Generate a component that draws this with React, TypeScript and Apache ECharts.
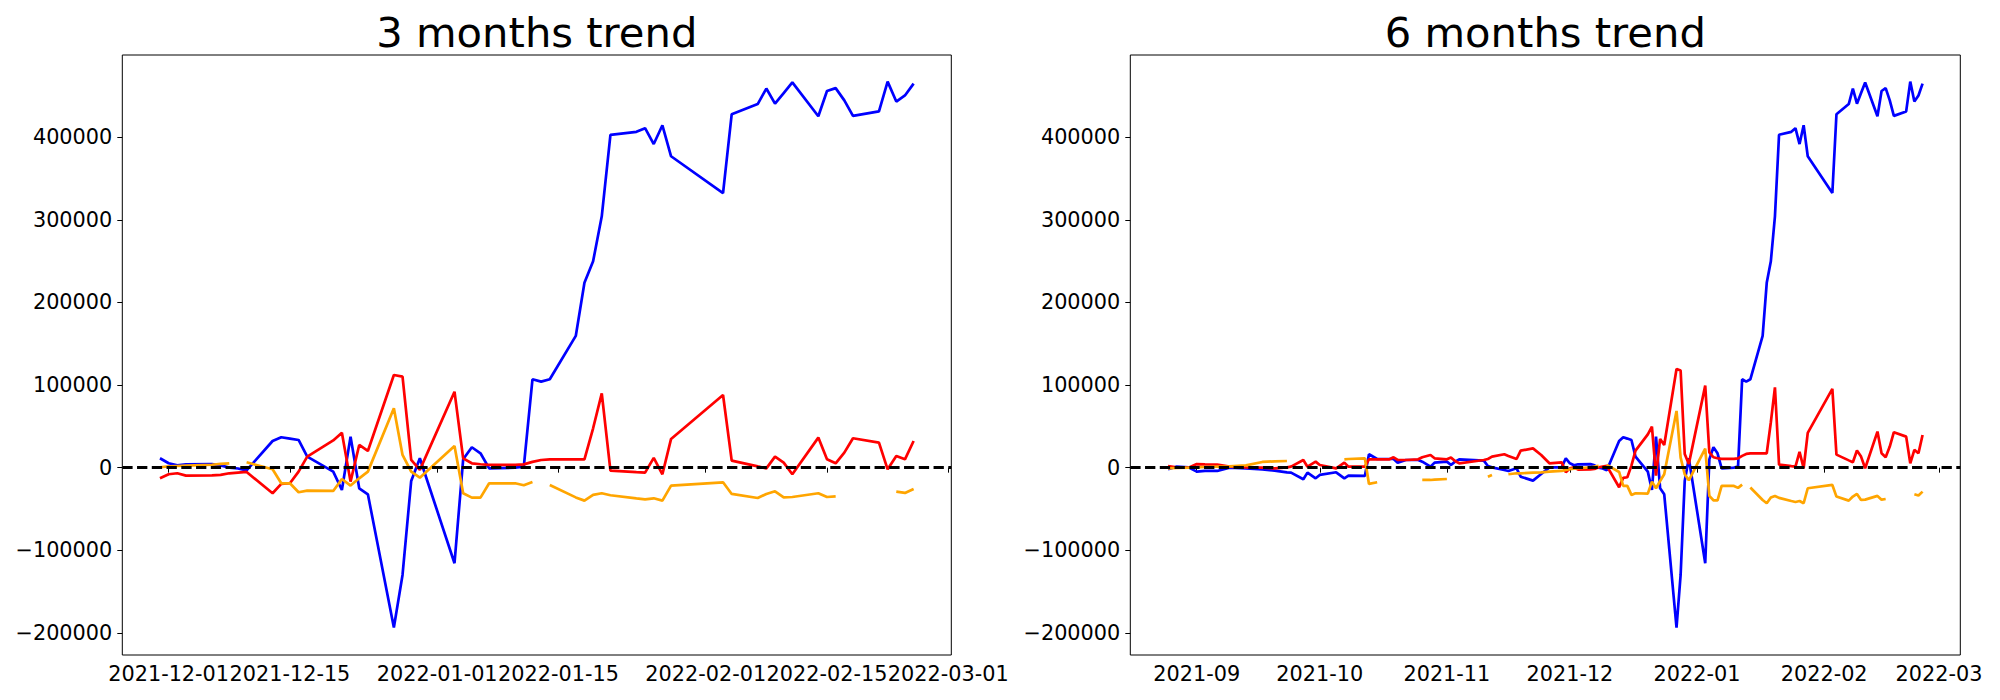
import React, { useEffect, useRef } from 'react';
import * as echarts from 'echarts';

// ---------- data ----------
const dates3 = [
  '2021-11-30', '2021-12-01', '2021-12-02', '2021-12-03', '2021-12-06', '2021-12-07', '2021-12-08', '2021-12-09', '2021-12-10',
  '2021-12-13', '2021-12-14', '2021-12-15', '2021-12-16', '2021-12-17', '2021-12-20', '2021-12-21', '2021-12-22', '2021-12-23',
  '2021-12-24', '2021-12-27', '2021-12-28', '2021-12-29', '2021-12-30', '2021-12-31', '2022-01-03', '2022-01-04', '2022-01-05',
  '2022-01-06', '2022-01-07', '2022-01-10', '2022-01-11', '2022-01-12', '2022-01-13', '2022-01-14', '2022-01-17', '2022-01-18',
  '2022-01-19', '2022-01-20', '2022-01-21', '2022-01-24', '2022-01-25', '2022-01-26', '2022-01-27', '2022-01-28', '2022-02-03',
  '2022-02-04', '2022-02-07', '2022-02-08', '2022-02-09', '2022-02-10', '2022-02-11', '2022-02-14', '2022-02-15', '2022-02-16',
  '2022-02-17', '2022-02-18', '2022-02-21', '2022-02-22', '2022-02-23', '2022-02-24', '2022-02-25',
];
const blue3 = [
  11350, 5300, 2900, 4100, 4300, 2800, 0, -1000, -3200,
  32300, 36800, 35200, 33500, 13400, -4800, -27000, 37600, -25000,
  -32200, -193600, -129900, -16100, 11400, -20400, -115700, 10100, 24700,
  17400, -800, 0, 1300, 107000, 104200, 107000, 159500, 223800,
  249900, 304300, 403000, 406600, 411000, 391800, 414500, 377000, 332500,
  427900, 440200, 459000, 440700, 453500, 466400, 425400, 456000, 459500,
  444700, 425900, 431300, 467400, 443200, 450600, 464900,
];
const red3 = [
  -12900, -8000, -6800, -9600, -9300, -8800, -6800, -6000, -5200,
  -31000, -19700, -18900, -4800, 13400, 33000, 42400, -16900, 27500,
  20200, 112200, 110200, 9300, -2800, 20900, 92000, 11300, 5300,
  4100, 3300, 3300, 4000, 7000, 9300, 10100, 10100, 10100,
  47700, 90000, -3600, -5500, -6000, 11800, -8000, 34800, 88000,
  8500, 1500, -800, 13400, 6100, -8000, 36400, 10100, 5300,
  18200, 35600, 30300, -2000, 14200, 10100, 32300,
];
const orange3 = [
  500, 1500, 2000, 2500, 3500, 4500, 5300, '-', 6500,
  -2000, -18900, -18900, -29800, -27800, -28200, -13700, -21700, -12900,
  -4800, 71900, 15400, -4800, -12100, -2500, 26300, -31000, -36300,
  -36300, -18900, -18900, -21300, -17300, '-', -20900, -36000, -39900,
  -33000, -31000, -33400, -37200, -38300, -37100, -39900, -21700, -17700,
  -31800, -36700, -31800, -28600, -35900, -35500, -31000, -35500, -34700,
  '-', '-', '-', '-', -29000, -30600, -25800,
];

const datesEarly = [
  '2021-08-25', '2021-08-27', '2021-08-30', '2021-09-01', '2021-09-03', '2021-09-06', '2021-09-09', '2021-09-13', '2021-09-17',
  '2021-09-20', '2021-09-23', '2021-09-24', '2021-09-27', '2021-09-28', '2021-09-30', '2021-10-01', '2021-10-05', '2021-10-07',
  '2021-10-08', '2021-10-12', '2021-10-13', '2021-10-15', '2021-10-18', '2021-10-19', '2021-10-20', '2021-10-22', '2021-10-25',
  '2021-10-26', '2021-10-28', '2021-10-29', '2021-11-01', '2021-11-02', '2021-11-03', '2021-11-04', '2021-11-10', '2021-11-11',
  '2021-11-12', '2021-11-15', '2021-11-16', '2021-11-18', '2021-11-19', '2021-11-22', '2021-11-24', '2021-11-26', '2021-11-29',
];
const blueEarly = [
  -2000, 1200, 400, -4800, -4000, -4000, 0, -800, -2000,
  -3600, -5600, -6000, -14000, -6000, -12900, -8800, -5600, -12900,
  -9700, -10000, 16200, 10500, 10500, 10500, 6100, 9300, 9300,
  7300, 1200, 6100, 7300, 3200, 7300, 10100, 8500, 2000,
  400, -2800, -4000, -800, -10900, -15700, -7700, 400, 400,
];
const redEarly = [
  2000, 400, 0, 4400, 4000, 3600, 1200, 400, 0,
  -800, 400, 1200, 9300, 1200, 7300, 3200, -800, 6100,
  1200, 1200, 10100, 10100, 10100, 12600, 9300, 9300, 10100,
  12600, 15400, 11300, 10100, 12200, 8100, 5300, 9300, 10500,
  13300, 16200, 14200, 10500, 20600, 23400, 15400, 5300, 6500,
];
const orangeEarly = [
  -800, -400, 0, 400, 800, 1200, 1600, 2800, 6900,
  7700, 8100, '-', '-', '-', '-', '-', '-', 10100,
  10500, 11300, -19700, -17700, '-', '-', '-', '-', '-',
  -14900, -14900, -14500, -13700, '-', '-', '-', '-', -10900,
  -8800, '-', -8000, -6800, -6800, -6000, -5600, -4800, -4000,
];
const red6Late = [
  -5600, -700, 500, -2300, -2000, -1500, 500, 1300, 2100,
  -23700, -12400, -11600, 2500, 20700, 40300, 49700, -9600, 34800,
  27500, 119500, 117500, 16600, 4500, 28200, 99300, 18600, 12600,
  11400, 10600, 10600, 11300, 14300, 16600, 17400, 17400, 17400,
  55000, 97300, 3700, 1800, 1300, 19100, -700, 42100, 95300,
  15800, 8800, 6500, 20700, 13400, -700, 43700, 17400, 12600,
  25500, 42900, 37600, 5300, 21500, 17400, 39600,
];
const orange6Late = [
  -2700, -1700, -1200, -700, 300, 1300, 2100, '-', 3300,
  -5200, -22100, -22100, -33000, -31000, -31400, -16900, -24900, -16100,
  -8000, 68700, 12200, -8000, -15300, -5700, 23100, -34200, -39500,
  -39500, -22100, -22100, -24500, -20500, '-', -24100, -39200, -43100,
  -36200, -34200, -36600, -40400, -41500, -40300, -43100, -24900, -20900,
  -35000, -39900, -35000, -31800, -39100, -38700, -34200, -38700, -37900,
  '-', '-', '-', '-', -32200, -33800, -29000,
];

const dates6 = [...datesEarly, ...dates3];
const blue6 = [...blueEarly, ...blue3];
const red6 = [...redEarly, ...red6Late];
const orange6 = [...orangeEarly, ...orange6Late];

const ticks3 = ['2021-12-01', '2021-12-15', '2022-01-01', '2022-01-15', '2022-02-01', '2022-02-15', '2022-03-01'];
const ticks6 = ['2021-09-01', '2021-10-01', '2021-11-01', '2021-12-01', '2022-01-01', '2022-02-01', '2022-03-01'];
const yTicks = [-200000, -100000, 0, 100000, 200000, 300000, 400000];
const titles = ['3 months trend', '6 months trend'];

// ---------- helpers ----------
const DAY = 86400000;
const ts = (s: string) => {
  const [y, m, d] = s.split('-').map(Number);
  return Date.UTC(y, m - 1, d);
};
const pad = (n: number) => (n < 10 ? '0' + n : '' + n);
const fmtDay = (v: number) => {
  const d = new Date(v);
  return d.getUTCFullYear() + '-' + pad(d.getUTCMonth() + 1) + '-' + pad(d.getUTCDate());
};
const fmtMonth = (v: number) => {
  const d = new Date(v);
  return d.getUTCFullYear() + '-' + pad(d.getUTCMonth() + 1);
};
const pairs = (dates: string[], vals: any[]) => dates.map((d, i) => [ts(d), vals[i]]);

const FONT = 'DejaVu Sans';
const Y_MIN = -226800;
const Y_MAX = 499600;
const LW = 2.7;

export default function App() {
  const ref = useRef<HTMLDivElement>(null);

  useEffect(() => {
    if (!ref.current) return;
    const chart = echarts.init(ref.current, undefined, { renderer: 'svg' });

    const grids = [
      { left: 122.3, top: 55, width: 829, height: 600 },
      { left: 1130.3, top: 55, width: 830, height: 600 },
    ];
    const xRanges = [
      [ts(dates3[0]) - 4.35 * DAY, ts(dates3[dates3.length - 1]) + 4.35 * DAY],
      [ts(dates6[0]) - 9.2 * DAY, ts(dates6[dates6.length - 1]) + 9.2 * DAY],
    ];
    const tickSets = [ticks3.map(ts), ticks6.map(ts)];
    const fmts = [fmtDay, fmtMonth];

    const labelStyle = { fontSize: 20.8, fontFamily: FONT, color: '#000' };

    const series: any[] = [];
    const sets = [
      { dates: dates3, blue: blue3, red: red3, orange: orange3 },
      { dates: dates6, blue: blue6, red: red6, orange: orange6 },
    ];
    sets.forEach((s, i) => {
      const base = {
        type: 'line',
        xAxisIndex: i,
        yAxisIndex: i,
        showSymbol: false,
        symbol: 'none',
        connectNulls: false,
        silent: true,
      };
      series.push({ ...base, name: 'blue' + i, data: pairs(s.dates, s.blue), lineStyle: { color: '#0000ff', width: LW }, itemStyle: { color: '#0000ff' } });
      series.push({ ...base, name: 'red' + i, data: pairs(s.dates, s.red), lineStyle: { color: '#ff0000', width: LW }, itemStyle: { color: '#ff0000' } });
      series.push({
        ...base,
        name: 'orange' + i,
        data: pairs(s.dates, s.orange),
        lineStyle: { color: '#ffa500', width: LW },
        itemStyle: { color: '#ffa500' },
        markLine: {
          silent: true,
          symbol: ['none', 'none'],
          label: { show: false },
          lineStyle: { color: '#000', width: 2.78, type: [10.3, 4.45] },
          data: [{ yAxis: 0 }],
          z: 10,
        },
      });
    });

    chart.setOption({
      animation: false,
      backgroundColor: '#fff',
      title: titles.map((t, i) => ({
        text: t,
        left: grids[i].left + grids[i].width / 2,
        top: 11,
        padding: 0,
        textAlign: 'center',
        textStyle: { fontSize: 41.7, fontWeight: 'normal', fontFamily: FONT, color: '#000' },
      })),
      grid: grids.map((g) => ({ ...g, show: true, borderColor: '#000', borderWidth: 1, backgroundColor: 'transparent' })),
      xAxis: [0, 1].map((i) => ({
        type: 'value',
        gridIndex: i,
        min: xRanges[i][0],
        max: xRanges[i][1],
        axisLine: { show: false },
        splitLine: { show: false },
        axisTick: { show: true, inside: false, length: 5, customValues: tickSets[i], lineStyle: { color: '#000', width: 1 } },
        axisLabel: { ...labelStyle, margin: 8, customValues: tickSets[i], formatter: (v: number) => fmts[i](v), hideOverlap: false },
      })),
      yAxis: [0, 1].map((i) => ({
        type: 'value',
        gridIndex: i,
        min: Y_MIN,
        max: Y_MAX,
        axisLine: { show: false },
        splitLine: { show: false },
        axisTick: { show: true, inside: false, length: 5, customValues: yTicks, lineStyle: { color: '#000', width: 1 } },
        axisLabel: { ...labelStyle, margin: 10, customValues: yTicks, formatter: (v: number) => String(v).replace('-', '\u2212') },
      })),
      series,
    });

    return () => chart.dispose();
  }, []);

  return <div ref={ref} style={{ position: 'absolute', left: 0, top: 0, width: 2000, height: 700 }} />;
}
